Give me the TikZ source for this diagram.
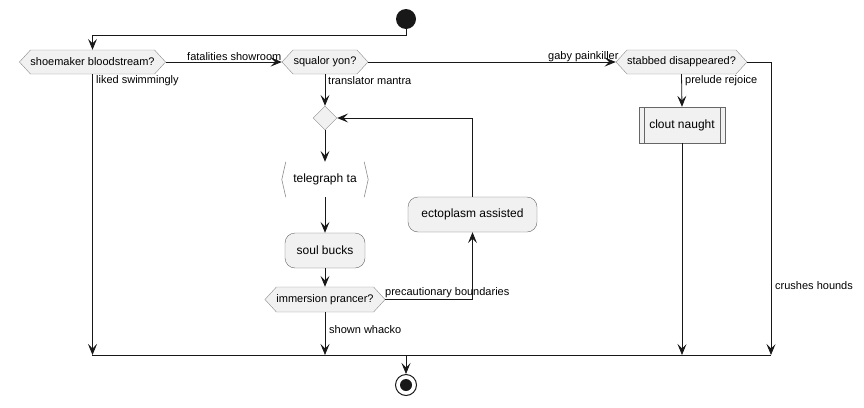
\documentclass[tikz,border=0pt]{standalone}
\usepackage{fontspec}
\setmainfont{Liberation Sans}
\usetikzlibrary{arrows.meta,shapes.symbols,shapes.geometric}
\definecolor{boxfill}{HTML}{F1F1F1}
\definecolor{lineclr}{HTML}{181818}
\newcommand{\lblfont}{\fontsize{11}{13}\selectfont}
\newcommand{\actfont}{\fontsize{12}{14}\selectfont}

\tikzset{
  flow/.style={draw=lineclr, line width=0.8pt, -{Stealth[length=11pt,width=9pt,inset=4.5pt]}},
  plain/.style={draw=lineclr, line width=0.8pt},
  decide/.style={signal, signal to=west and east, signal pointer angle=95,
    draw=black!45, fill=boxfill, minimum height=24pt, inner sep=0pt, font=\lblfont},
  act/.style={rectangle, rounded corners=10pt, draw=black!60, fill=boxfill,
    minimum height=35pt, inner sep=0pt, font=\actfont},
  lbl/.style={anchor=west, inner sep=0pt, font=\lblfont},
}

\begin{document}
\begin{tikzpicture}[x=1pt, y=-1pt]
  \useasboundingbox (0,0) rectangle (864,407);

  % start and decisions
  \node[circle, fill=lineclr, minimum size=20pt, inner sep=0pt] (start) at (406,19) {};
  \node[decide, minimum width=145pt] (q1) at (92.5,62) {shoemaker bloodstream?};
  \node[decide, minimum width=86pt] (q2) at (325,62) {squalor yon?};
  \node[decide, minimum width=131pt] (q3) at (681.5,62) {stabbed disappeared?};

  % inner loop
  \node[diamond, draw=black!45, fill=boxfill, minimum width=24pt, minimum height=24pt,
    inner sep=0pt] (merge) at (325,118) {};
  \node[rectangle, minimum width=86pt, minimum height=35pt, inner sep=0pt,
    font=\actfont] (tele) at (325,179.5) {telegraph ta};
  \draw[black!45, line width=0.6pt] ([xshift=4pt]tele.north west) -- (tele.west) -- ([xshift=4pt]tele.south west);
  \draw[black!45, line width=0.6pt] ([xshift=-4pt]tele.north east) -- (tele.east) -- ([xshift=-4pt]tele.south east);
  \node[act, minimum width=80pt] (soul) at (325,250.5) {soul bucks};
  \node[decide, minimum width=120pt, minimum height=25pt] (q4) at (325,299.5) {immersion prancer?};
  \node[act, minimum width=129pt] (ecto) at (472.5,214.5) {ectoplasm assisted};

  % sub process
  \node[rectangle, draw=black!60, fill=boxfill, minimum width=86pt, minimum height=36pt,
    inner sep=0pt, font=\actfont] (clout) at (682,125) {clout naught};
  \draw[black!60, line width=0.6pt] ([xshift=5pt]clout.north west) -- ([xshift=5pt]clout.south west);
  \draw[black!60, line width=0.6pt] ([xshift=-5pt]clout.north east) -- ([xshift=-5pt]clout.south east);

  % end
  \coordinate (barl) at (92,355);
  \coordinate (barr) at (771,355);
  \node[circle, draw=lineclr, line width=1pt, minimum size=21pt, inner sep=0pt] (stop) at (406,385) {};
  \node[circle, fill=lineclr, minimum size=12pt, inner sep=0pt] (stopdot) at (stop) {};

  % connectors
  \draw[flow] (start.south) -- ++(0,6) -| (q1.north);
  \draw[flow] (q1.east) -- (q2.west);
  \draw[flow] (q2.east) -- (q3.west);
  \draw[flow] (q3.east) -| (barr);
  \draw[flow] (q3.south) -- (clout.north);
  \draw[flow] (clout.south) -- (clout.south |- barr);
  \draw[flow] (q1.south) -- (q1.south |- barr);
  \draw[flow] (q2.south) -- (merge.north);
  \draw[flow] (merge.south) -- (tele.north);
  \draw[flow] (tele.south) -- (soul.north);
  \draw[flow] (soul.south) -- (q4.north);
  \draw[flow] (q4.south) -- (q4.south |- barr);
  \draw[flow] (q4.east) -| (ecto.south);
  \draw[flow] (ecto.north) |- (merge.east);
  \draw[plain] (barl) -- (barr);
  \draw[flow] (start |- barr) -- (stop.north);

  % labels
  \node[lbl] (l1) at (187,57) {fatalities showroom};
  \node[lbl] (l2) at (548,57) {gaby painkiller};
  \node[lbl] (l3) at (96,81) {liked swimmingly};
  \node[lbl] (l4) at (328,81) {translator mantra};
  \node[lbl] (l5) at (685,81) {prelude rejoice};
  \node[lbl] (l6) at (385,293) {precautionary boundaries};
  \node[lbl] (l7) at (329,330) {shown whacko};
  \node[lbl] (l8) at (775,286) {crushes hounds};
\end{tikzpicture}
\end{document}
